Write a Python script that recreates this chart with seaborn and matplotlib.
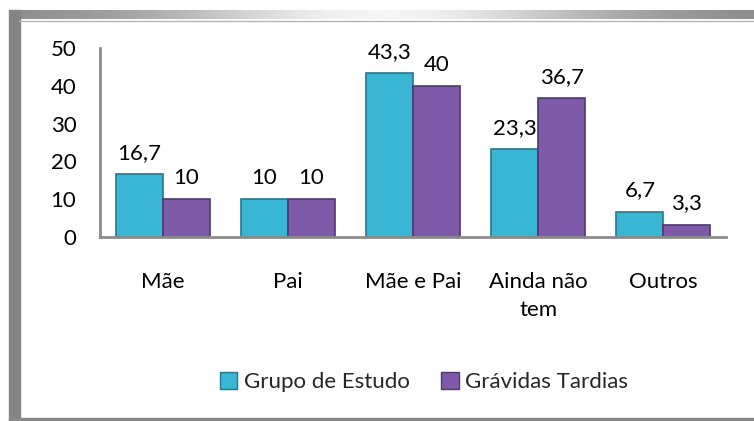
import numpy as np
import pandas as pd
import seaborn as sns
import matplotlib.pyplot as plt
from matplotlib.patches import Rectangle

# ── Data ────────────────────────────────────────────────────────────────────
categories = ["Mãe", "Pai", "Mãe e Pai", "Ainda não\ntem", "Outros"]
series = ["Grupo de Estudo", "Grávidas Tardias"]
grupo_estudo = [16.7, 10, 43.3, 23.3, 6.7]
gravidas_tardias = [10, 10, 40, 36.7, 3.3]
y_ticks = [0, 10, 20, 30, 40, 50]

COLORS = ["#38b6d4", "#7f5aa8"]
EDGES = ["#23788e", "#4f3870"]
FS = 16

df = pd.DataFrame({
    "categoria": categories * 2,
    "grupo": [series[0]] * 5 + [series[1]] * 5,
    "valor": grupo_estudo + gravidas_tardias,
})

sns.set_theme(style="white")
plt.rcParams["font.family"] = ["Lato", "DejaVu Sans"]

W, H = 754, 421
fig = plt.figure(figsize=(W / 100, H / 100), dpi=100)

def fx(px): return px / W
def fy(py): return 1 - py / H

# ── outer frame (gray border with gradient top) ────────────────────────────
fig.patches.append(Rectangle((fx(9), fy(421)), fx(11), fy(10) - fy(421),
                             transform=fig.transFigure, color="#858585", zorder=0))
fig.patches.append(Rectangle((fx(9), fy(421)), 1, fy(418) - fy(421),
                             transform=fig.transFigure, color="#8a8a8a", zorder=0))
grad_ax = fig.add_axes([fx(9), fy(19), 1 - fx(9), fy(10) - fy(19)])
xs = np.linspace(0, 1, 300)
g = 0.53 + 0.43 * np.exp(-((xs - 0.5) / 0.3) ** 2)
grad_ax.imshow(np.tile(g, (2, 1)), cmap="gray", vmin=0, vmax=1, aspect="auto")
grad_ax.axis("off")
fig.add_artist(plt.Line2D([fx(19), 1], [fy(20.5), fy(20.5)], transform=fig.transFigure,
                          color="#b5b5b5", lw=1))

# ── bar chart ──────────────────────────────────────────────────────────────
ax = fig.add_axes([fx(100), fy(237), fx(726) - fx(100), fy(48) - fy(237)])
sns.barplot(data=df, x="categoria", y="valor", hue="grupo", order=categories,
            hue_order=series, palette=COLORS, saturation=1, width=0.75, gap=0,
            ax=ax, legend=False)

for i, cont in enumerate(ax.containers):
    for bar in cont:
        bar.set_edgecolor(EDGES[i])
        bar.set_linewidth(1.2)
    ax.bar_label(cont, labels=[f"{v:g}".replace(".", ",") for v in cont.datavalues],
                 padding=8, fontsize=FS, color="black")

ax.set_ylim(0, 50)
ax.set_yticks(y_ticks)
ax.set_xlabel("")
ax.set_ylabel("")
ax.tick_params(axis="y", length=0, pad=17, labelsize=FS, colors="black")
ax.tick_params(axis="x", length=0, pad=25, labelsize=FS, colors="black")
for lab in ax.get_xticklabels():
    lab.set_verticalalignment("top")
    lab.set_linespacing(1.5)
for s in ["top", "right"]:
    ax.spines[s].set_visible(False)
for s in ["left", "bottom"]:
    ax.spines[s].set_color("#8c8c8c")
    ax.spines[s].set_linewidth(2)
ax.set_facecolor("none")

handles = [Rectangle((0, 0), 1, 1, facecolor=COLORS[i], edgecolor=EDGES[i])
           for i in range(2)]
fig.legend(handles, series, loc="center", bbox_to_anchor=(fx(424), fy(382)),
           ncol=2, frameon=False, fontsize=FS, handlelength=0.8, handleheight=0.8,
           handletextpad=0.3, columnspacing=1.4)

fig.savefig("out.png", dpi=100)
